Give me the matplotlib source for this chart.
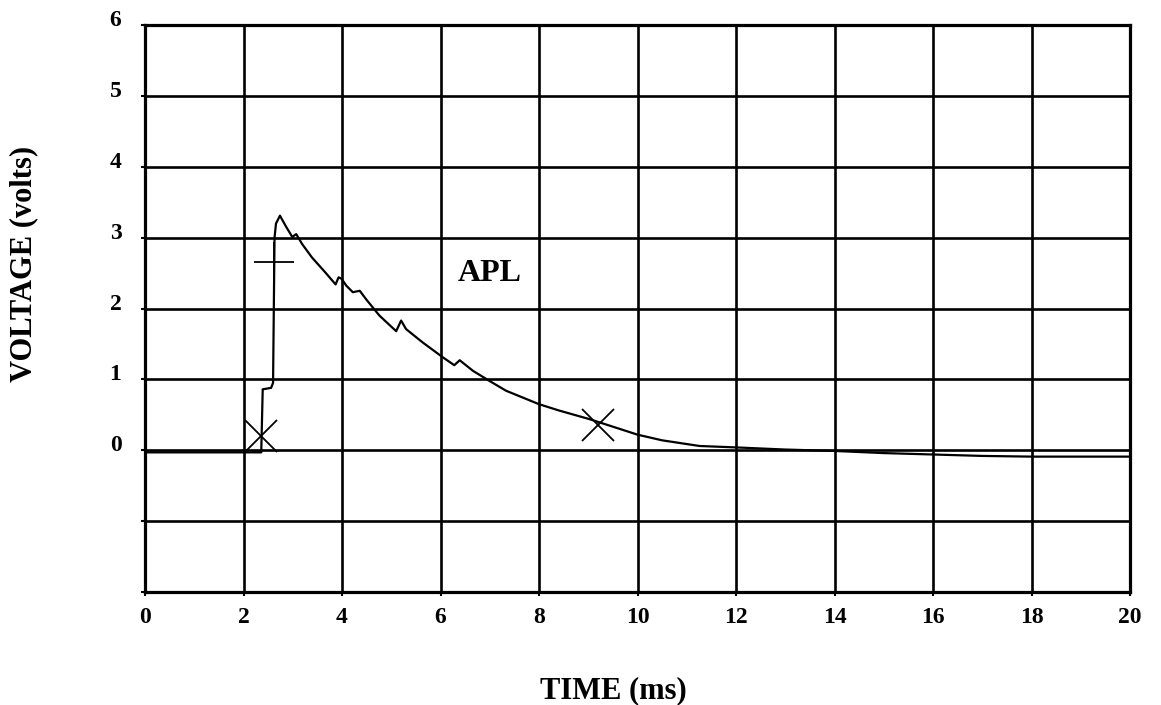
import matplotlib
matplotlib.use('Agg')
import matplotlib.pyplot as plt
import matplotlib.transforms as mtransforms

plt.rcParams['font.family'] = ['Liberation Serif', 'DejaVu Serif']
plt.rcParams['font.weight'] = 'bold'

# APL trace
time_ms = [0.0, 2.32, 2.36, 2.39, 2.56, 2.60, 2.63, 2.66, 2.74, 2.86, 2.99, 3.07,
           3.19, 3.39, 3.66, 3.87, 3.93, 3.99, 4.09, 4.22, 4.36, 4.49, 4.76, 5.10,
           5.20, 5.30, 5.64, 6.05, 6.28, 6.39, 6.66, 6.99, 7.33, 8.00, 8.41, 9.02,
           9.60, 10.0, 10.5, 11.26, 12.0, 13.0, 14.0, 15.0, 16.0, 17.0, 18.0, 20.0]
voltage = [-0.03, -0.03, -0.03, 0.86, 0.88, 0.95, 3.00, 3.20, 3.31, 3.16, 3.01, 3.05,
           2.91, 2.72, 2.51, 2.34, 2.44, 2.42, 2.32, 2.23, 2.25, 2.13, 1.90, 1.68,
           1.83, 1.71, 1.52, 1.31, 1.20, 1.27, 1.12, 0.98, 0.84, 0.65, 0.56, 0.44,
           0.31, 0.22, 0.14, 0.06, 0.04, 0.01, -0.01, -0.04, -0.06, -0.08, -0.09, -0.09]

# hand-drawn markers
plus_t = [2.62]
plus_v = [2.65]
cross_t = [2.36, 9.2]
cross_v = [0.20, 0.36]

x_ticks = list(range(0, 21, 2))
y_ticks = list(range(-2, 7))
y_tick_labels = ['', ''] + [str(v) for v in range(0, 7)]

fig = plt.figure(figsize=(11.61, 7.05), dpi=100)
ax = fig.add_axes([0.1249, 0.1603, 0.8484, 0.8042])

ax.plot(time_ms, voltage, color='black', linewidth=1.6, zorder=3)
ax.plot(plus_t, plus_v, linestyle='none', marker='+', markersize=29,
        markeredgewidth=1.3, color='black', zorder=4)
ax.plot(cross_t, cross_v, linestyle='none', marker='x', markersize=23,
        markeredgewidth=1.3, color='black', zorder=4)

ax.text(6.99, 2.5, 'APL', fontsize=23, fontweight='bold', ha='center', va='center')

ax.set_xlim(0, 20)
ax.set_ylim(-2, 6)
ax.set_xticks(x_ticks)
ax.set_yticks(y_ticks)
ax.set_yticklabels(y_tick_labels)
ax.tick_params(axis='both', direction='out', length=3, width=1.5, labelsize=17)
ax.tick_params(axis='x', pad=8)
ax.tick_params(axis='y', pad=14)
shift = mtransforms.ScaledTranslation(0, 5 / 72, fig.dpi_scale_trans)
for lab in ax.get_yticklabels():
    lab.set_fontweight('bold')
    lab.set_transform(lab.get_transform() + shift)
for lab in ax.get_xticklabels():
    lab.set_fontweight('bold')

ax.grid(True, color='black', linewidth=1.9)
ax.set_axisbelow(True)
for sp in ax.spines.values():
    sp.set_linewidth(2.3)

fig.text(0.528, 0.02, 'TIME (ms)', fontsize=22, fontweight='bold', ha='center', va='center')
fig.text(0.02, 0.625, 'VOLTAGE (volts)', fontsize=22, fontweight='bold',
         ha='center', va='center', rotation=90)

fig.savefig('out.png', dpi=100)
